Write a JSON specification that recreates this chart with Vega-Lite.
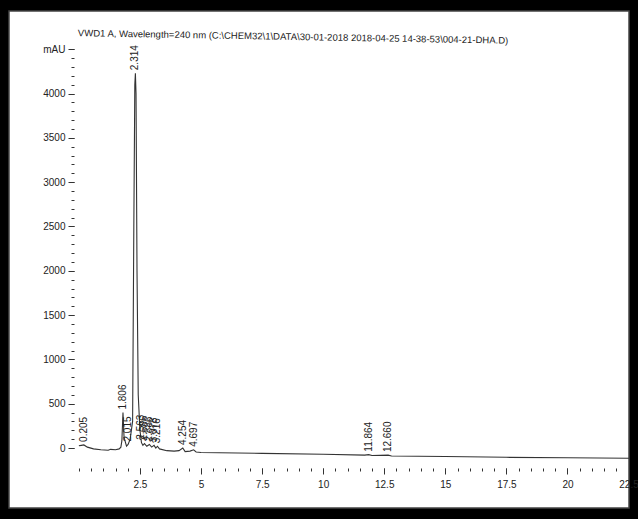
{
  "$schema": "https://vega.github.io/schema/vega-lite/v6.json",
  "width": 620,
  "height": 497,
  "autosize": {"type": "none"},
  "padding": {"left": 9, "top": 11, "right": 9, "bottom": 11},
  "background": "#000000",
  "config": {
    "view": {"fill": "#ffffff", "stroke": "#444444", "strokeWidth": 1.5},
    "font": "Liberation Sans Narrow, Liberation Sans, sans-serif",
    "axis": {"grid": false, "domain": false, "tickColor": "#333333", "labelColor": "#222222", "labelFont": "Liberation Sans Narrow, Liberation Sans, sans-serif", "labelFontSize": 10, "title": null, "labelFlush": false}
  },
  "title": {
    "text": "VWD1 A, Wavelength=240 nm (C:\\CHEM32\\1\\DATA\\30-01-2018 2018-04-25 14-38-53\\004-21-DHA.D)",
    "anchor": "start",
    "frame": "group",
    "offset": -33,
    "dx": 69,
    "fontSize": 9.5,
    "fontWeight": "normal",
    "color": "#222222",
    "angle": 1,
    "font": "Liberation Sans Narrow, Liberation Sans, sans-serif"
  },
  "datasets": {
    "trace": [
      {"t": 0, "v": 25}, {"t": 0.1, "v": 30}, {"t": 0.205, "v": 35}, {"t": 0.35, "v": 10},
      {"t": 0.6, "v": -10}, {"t": 0.9, "v": -20}, {"t": 1.2, "v": -25}, {"t": 1.3, "v": -15},
      {"t": 1.5, "v": -20}, {"t": 1.65, "v": -10}, {"t": 1.72, "v": 10}, {"t": 1.76, "v": 80},
      {"t": 1.806, "v": 400}, {"t": 1.85, "v": 120}, {"t": 1.95, "v": 20}, {"t": 2.015, "v": 40},
      {"t": 2.1, "v": 100}, {"t": 2.2, "v": 300}, {"t": 2.25, "v": 2500}, {"t": 2.29, "v": 4100},
      {"t": 2.314, "v": 4230}, {"t": 2.34, "v": 4000}, {"t": 2.38, "v": 2000}, {"t": 2.43, "v": 600},
      {"t": 2.5, "v": 200}, {"t": 2.563, "v": 60}, {"t": 2.62, "v": 30}, {"t": 2.686, "v": 50},
      {"t": 2.78, "v": 20}, {"t": 2.886, "v": 40}, {"t": 2.98, "v": 10}, {"t": 3.078, "v": 30},
      {"t": 3.15, "v": 0}, {"t": 3.216, "v": 20}, {"t": 3.3, "v": -10}, {"t": 3.6, "v": -30},
      {"t": 3.9, "v": -35}, {"t": 4.1, "v": -30}, {"t": 4.254, "v": 0}, {"t": 4.35, "v": -40},
      {"t": 4.55, "v": -35}, {"t": 4.697, "v": -20}, {"t": 4.8, "v": -45}, {"t": 5.0, "v": -50},
      {"t": 7.5, "v": -60}, {"t": 10, "v": -70}, {"t": 11.7, "v": -80}, {"t": 11.864, "v": -75},
      {"t": 12.0, "v": -85}, {"t": 12.66, "v": -80}, {"t": 12.8, "v": -90}, {"t": 15, "v": -95},
      {"t": 17.5, "v": -105}, {"t": 20, "v": -110}, {"t": 22.52, "v": -115}
    ],
    "peaks": [
      {"t": 0.205, "v": 35, "label": "0.205"},
      {"t": 1.806, "v": 400, "label": "1.806"},
      {"t": 2.015, "v": 40, "label": "2.015"},
      {"t": 2.314, "v": 4230, "label": "2.314"},
      {"t": 2.563, "v": 60, "label": "2.563"},
      {"t": 2.686, "v": 50, "label": "2.686"},
      {"t": 2.886, "v": 40, "label": "2.886"},
      {"t": 3.078, "v": 30, "label": "3.078"},
      {"t": 3.216, "v": 20, "label": "3.216"},
      {"t": 4.254, "v": 0, "label": "4.254"},
      {"t": 4.697, "v": -20, "label": "4.697"},
      {"t": 11.864, "v": -75, "label": "11.864"},
      {"t": 12.66, "v": -80, "label": "12.660"}
    ]
  },
  "layer": [
    {
      "data": {"name": "trace"},
      "mark": {"type": "line", "color": "#333333", "strokeWidth": 1.1},
      "encoding": {
        "x": {"field": "t", "type": "quantitative", "scale": {"domain": [-2.86, 22.52], "nice": false, "zero": false},
          "axis": {"orient": "bottom", "offset": -40, "values": [0,0.5,1,1.5,2,2.5,3,3.5,4,4.5,5,5.5,6,6.5,7,7.5,8,8.5,9,9.5,10,10.5,11,11.5,12,12.5,13,13.5,14,14.5,15,15.5,16,16.5,17,17.5,18,18.5,19,19.5,20,20.5,21,21.5,22,22.5], "labels": false, "tickSize": 3}},
        "y": {"field": "v", "type": "quantitative", "scale": {"domain": [-677, 4932], "nice": false, "zero": false},
          "axis": {"orient": "left", "offset": -65, "values": [0,100,200,300,400,500,600,700,800,900,1000,1100,1200,1300,1400,1500,1600,1700,1800,1900,2000,2100,2200,2300,2400,2500,2600,2700,2800,2900,3000,3100,3200,3300,3400,3500,3600,3700,3800,3900,4000,4100,4200,4300,4400,4500], "labels": false, "tickSize": 3}}
      }
    },
    {
      "mark": {"type": "rule", "color": "#333333", "strokeWidth": 1},
      "encoding": {
        "x": {"datum": -0.2, "type": "quantitative", "scale": {"domain": [-2.86, 22.52], "nice": false, "zero": false},
          "axis": {"orient": "bottom", "offset": -40, "values": [2.5,5,7.5,10,12.5,15,17.5,20,22.5], "tickSize": 6, "labelPadding": 5, "format": ".1~f", "labelFlush": false, "title": null}},
        "y": {"datum": -226, "type": "quantitative", "scale": {"domain": [-677, 4932], "nice": false, "zero": false},
          "axis": {"orient": "left", "offset": -65, "values": [0,500,1000,1500,2000,2500,3000,3500,4000,4500], "tickSize": 6, "labelPadding": 3, "format": "d", "labelFlush": false, "labelExpr": "datum.value == 4500 ? 'mAU' : datum.label", "title": null}},
        "y2": {"datum": 4550}
      }
    },
    {
      "mark": {"type": "rule", "color": "#333333", "strokeWidth": 1},
      "encoding": {
        "x": {"datum": -0.2, "type": "quantitative", "scale": {"domain": [-2.86, 22.52], "nice": false, "zero": false}, "axis": null},
        "x2": {"datum": 22.52},
        "y": {"datum": -226, "type": "quantitative", "scale": {"domain": [-677, 4932], "nice": false, "zero": false}, "axis": null}
      }
    },
    {
      "data": {"name": "peaks"},
      "mark": {"type": "text", "angle": 270, "align": "left", "baseline": "middle", "dx": 3, "fontSize": 10, "color": "#222222"},
      "encoding": {
        "x": {"field": "t", "type": "quantitative", "scale": {"domain": [-2.86, 22.52], "nice": false, "zero": false}, "axis": null},
        "y": {"field": "v", "type": "quantitative", "scale": {"domain": [-677, 4932], "nice": false, "zero": false}, "axis": null},
        "text": {"field": "label"}
      }
    }
  ],
  "resolve": {"axis": {"x": "independent", "y": "independent"}}
}
